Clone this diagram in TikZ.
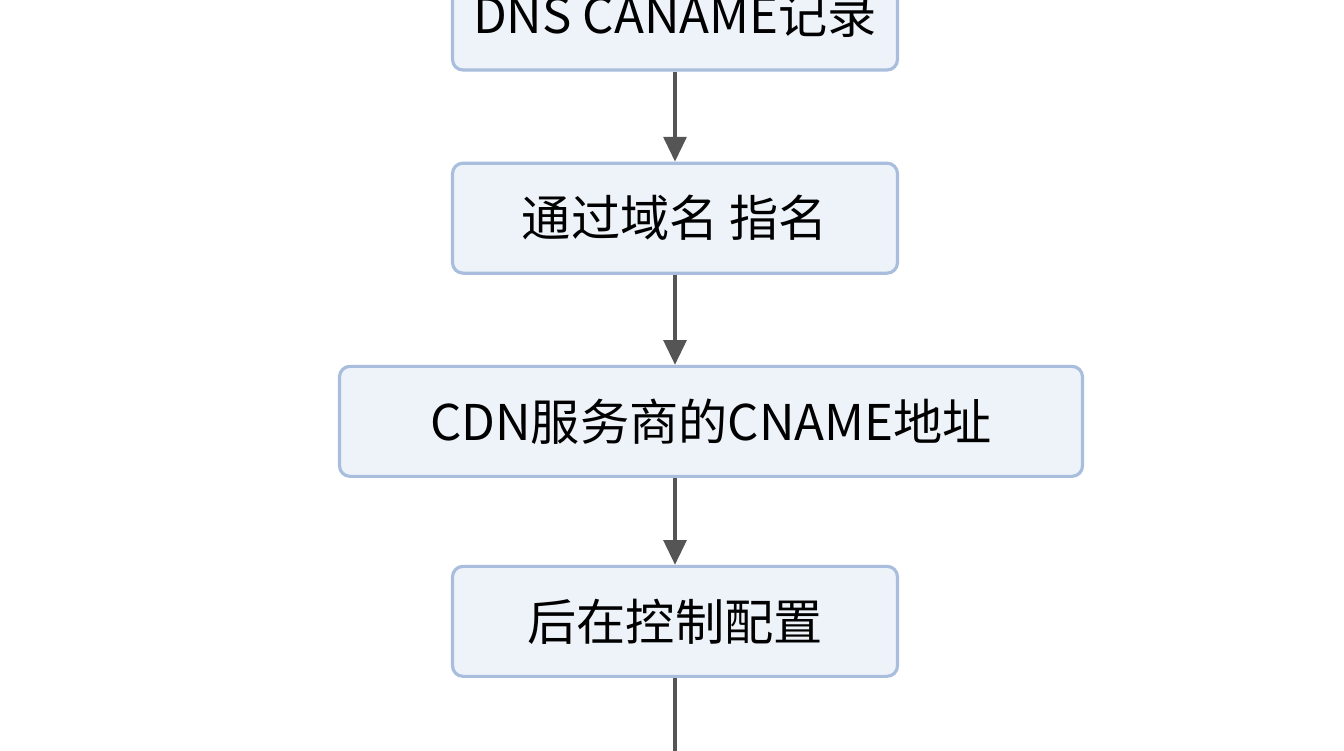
\documentclass[tikz,border=0pt]{standalone}
\usepackage{fontspec}
\setmainfont{Noto Sans CJK SC}
\usetikzlibrary{positioning,arrows.meta}
\definecolor{boxfill}{HTML}{EEF3FA}
\definecolor{boxline}{HTML}{A9BEDD}
\definecolor{arrowgray}{HTML}{555555}
\tikzset{
  flowbox/.style={draw=boxline,fill=boxfill,line width=1.8pt,rounded corners=6pt,
    minimum width=8.9cm,minimum height=2.2cm,inner sep=0pt,
    font=\fontsize{28}{32}\selectfont},
  flow/.style={-{Triangle[length=14pt,width=13pt]},draw=arrowgray,line width=1.8pt}
}
\begin{document}
\begin{tikzpicture}
  \useasboundingbox[fill=white] (0,0) rectangle (26.88,-15);
  \node[flowbox] (dns) at (13.5,-0.3) {DNS CANAME记录};
  \node[flowbox,below=1.8cm of dns] (domain) {通过域名 指名};
  \node[flowbox,below=1.8cm of domain,xshift=0.72cm,minimum width=14.86cm] (cdn) {CDN服务商的CNAME地址};
  \node[flowbox,below=1.8cm of domain,yshift=-4cm] (config) {后在控制配置};
  \coordinate[below=2cm of config] (next);

  %arrows
  \draw[flow] (dns) -- (domain);
  \draw[flow] (domain) -- (domain |- cdn.north);
  \draw[flow] (domain |- cdn.south) -- (config);
  \draw[flow] (config) -- (next);
\end{tikzpicture}
\end{document}
